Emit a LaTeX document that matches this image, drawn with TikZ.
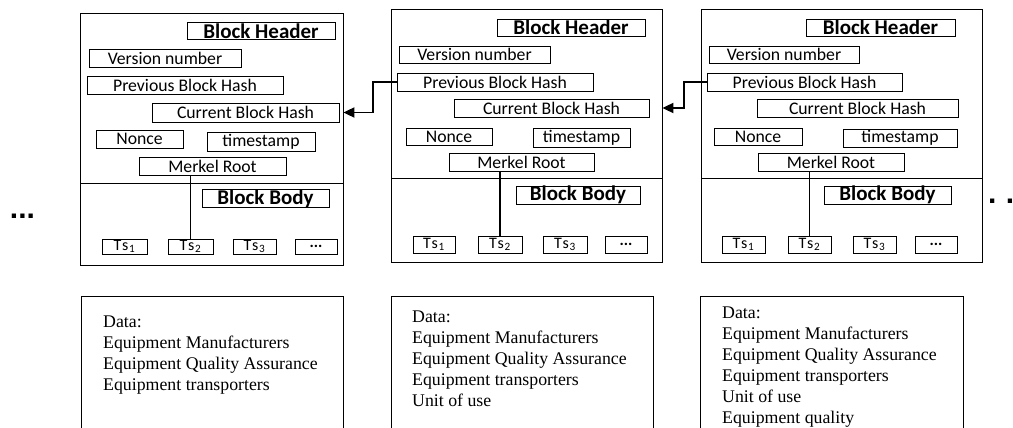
\documentclass[tikz,border=0pt]{standalone}
\usepackage{fontspec}
\setmainfont{Liberation Serif}
\newfontfamily\blkfont{Carlito}
\newfontfamily\dotfont{Liberation Sans}
\usetikzlibrary{arrows.meta}
\newcommand\bx[7][ibox]{\node[#1, minimum width=#5pt, minimum height=#6pt] (#2) at (#3,#4) {#7};}
\newcommand\tsl[1]{T\kern0.6pt s\kern0.8pt\textsubscript{#1}}
\begin{document}
\begin{tikzpicture}[x=1pt,y=-1pt,
  ibox/.style={draw, line width=0.8pt, inner sep=0pt, font=\blkfont\fontsize{17.7}{20}\selectfont},
  hbox/.style={ibox, font=\blkfont\bfseries\fontsize{21}{23}\selectfont},
  tbox/.style={ibox, font=\blkfont\fontsize{16}{18}\selectfont},
  obox/.style={draw, line width=0.8pt, inner sep=0pt},
  arr/.style={line width=1.8pt, -{Triangle[length=11pt,width=10pt]}},
  link/.style={line width=1.3pt},
  sep/.style={line width=0.8pt},
  dots/.style={font=\dotfont\bfseries\fontsize{30}{30}\selectfont, inner sep=0pt},
  dtext/.style={font=\fontsize{17.8}{21}\selectfont, align=left, inner sep=0pt, anchor=north west},
]
\useasboundingbox (0,0) rectangle (1013,428);
\clip (0,0) rectangle (1013,428);

% ---------- Block 1 ----------
\bx[obox]{b1}{211.5}{139}{263}{252}{}
\coordinate (s1a) at (80,183); \coordinate (s1b) at (343,183);
\draw[sep] (s1a) -- (s1b);
\bx[hbox]{hdr1}{261}{31}{148}{16.5}{Block Header}
\bx{ver1}{165}{58}{152}{18}{Version number}
\bx{prev1}{185}{85}{196}{18}{Previous Block Hash}
\bx{cur1}{245.5}{112.5}{187}{19}{Current Block Hash}
\bx{non1}{139.5}{139}{87}{18}{Nonce}
\bx{tim1}{261}{141.5}{108}{19}{timestamp}
\bx{mr1}{212.5}{166}{147}{18}{Merkel Root}
\bx[hbox]{body1}{265.5}{198.5}{127}{17}{Block Body}
\bx[tbox]{t11}{124.5}{246.5}{45}{15}{\tsl{1}}
\bx[tbox]{t12}{190.5}{246.5}{45}{15}{\tsl{2}}
\bx[tbox]{t13}{254.5}{246.5}{43}{15}{\tsl{3}}
\bx[tbox]{t14}{316}{246.5}{42}{15}{\textbf{...}}
\draw[link] (t12.north) -- (t12.north |- mr1.south);

% ---------- Block 2 ----------
\bx[obox]{b2}{526.5}{135.5}{271}{253}{}
\coordinate (s2a) at (391,178); \coordinate (s2b) at (662,178);
\draw[sep] (s2a) -- (s2b);
\bx[hbox]{hdr2}{571}{27.5}{148}{17}{Block Header}
\bx{ver2}{474.5}{54.5}{151}{17}{Version number}
\bx{prev2}{495}{82}{196}{18}{Previous Block Hash}
\bx{cur2}{551.5}{108}{195}{18}{Current Block Hash}
\bx{non2}{449}{136.5}{86}{17}{Nonce}
\bx{tim2}{581.5}{137.5}{97}{19}{timestamp}
\bx{mr2}{521.5}{162}{145}{18}{Merkel Root}
\bx[hbox]{body2}{578}{195}{124}{18}{Block Body}
\bx[tbox]{t21}{434}{244.5}{42}{17}{\tsl{1}}
\bx[tbox]{t22}{500}{244.5}{44}{17}{\tsl{2}}
\bx[tbox]{t23}{565}{244.5}{44}{17}{\tsl{3}}
\bx[tbox]{t24}{626}{244.5}{42}{17}{\textbf{...}}
\draw[link] (t22.north) -- (t22.north |- mr2.south);

% ---------- Block 3 ----------
\bx[obox]{b3}{841.5}{135.5}{281}{253}{}
\coordinate (s3a) at (701,178); \coordinate (s3b) at (982,178);
\draw[sep] (s3a) -- (s3b);
\bx[hbox]{hdr3}{880.5}{27.5}{149}{17}{Block Header}
\bx{ver3}{784}{54.5}{150}{17}{Version number}
\bx{prev3}{804.5}{82}{195}{18}{Previous Block Hash}
\bx{cur3}{857.5}{108}{201}{18}{Current Block Hash}
\bx{non3}{758}{136.5}{88}{17}{Nonce}
\bx{tim3}{900}{138}{114}{18}{timestamp}
\bx{mr3}{831}{162}{146}{18}{Merkel Root}
\bx[hbox]{body3}{887.5}{195}{127}{18}{Block Body}
\bx[tbox]{t31}{743.5}{244.5}{43}{17}{\tsl{1}}
\bx[tbox]{t32}{809.5}{244.5}{43}{17}{\tsl{2}}
\bx[tbox]{t33}{874.5}{244.5}{43}{17}{\tsl{3}}
\bx[tbox]{t34}{936}{244.5}{42}{17}{\textbf{...}}
\draw[link] (t32.north) -- (t32.north |- mr3.south);

% ---------- chain links ----------
\draw[arr] (prev2.west) -- ++(-24,0) |- (b1.east |- cur1.east);
\draw[arr] (prev3.west) -- ++(-23,0) |- (b2.east |- cur2.east);

% ---------- continuation dots ----------
\node[dots] (dl) at (22.5,216) {...};
\node[dots] (dr) at (1010,201) {.\kern9.5pt.\kern9.5pt.};

% ---------- data boxes ----------
\node[obox, anchor=north west, minimum width=262pt, minimum height=150pt] (d1) at (81,296) {};
\node[dtext] (d1t) at (103,316) {Data:\\Equipment Manufacturers\\Equipment Quality Assurance\\Equipment transporters};
\node[obox, anchor=north west, minimum width=262pt, minimum height=150pt] (d2) at (391,296) {};
\node[dtext] (d2t) at (412,311) {Data:\\Equipment Manufacturers\\Equipment Quality Assurance\\Equipment transporters\\Unit of use};
\node[obox, anchor=north west, minimum width=263pt, minimum height=150pt] (d3) at (700,296) {};
\node[dtext] (d3t) at (722,307) {Data:\\Equipment Manufacturers\\Equipment Quality Assurance\\Equipment transporters\\Unit of use\\Equipment quality};
\end{tikzpicture}
\end{document}
